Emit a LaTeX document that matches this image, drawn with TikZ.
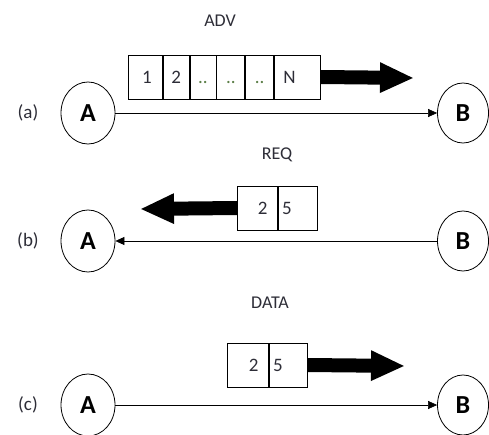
\documentclass[tikz,border=0pt]{standalone}
\usepackage{fontspec}
\setmainfont{Carlito}
\usetikzlibrary{shapes,arrows.meta,positioning}
\definecolor{dotgreen}{RGB}{90,125,70}
\definecolor{inkgray}{RGB}{45,45,55}

\begin{document}
\begin{tikzpicture}[x=1pt, y=-1pt,
    station/.style={ellipse, draw, thick, minimum width=54, minimum height=62, inner sep=0, font=\fontsize{26}{26}\selectfont\bfseries},
    cell/.style={rectangle, draw, thick, minimum height=44, inner ysep=0, inner xsep=4, text height=13, text depth=0, align=center, font=\fontsize{19}{19}\selectfont, text=inkgray},
    msg/.style={font=\fontsize{18}{18}\selectfont, text=inkgray},
    tag/.style={font=\fontsize{19}{19}\selectfont, text=inkgray},
    link/.style={-{Triangle[length=9pt,width=8pt]}, semithick},
    fat/.style={line width=14, -{Triangle[length=34pt,width=28pt]}}
]
\useasboundingbox (0,0) rectangle (489,435);

% (a) advertisement
\node[tag] (taga) at (28,113) {(a)};
\node[station] (a1) at (88,113) {A};
\node[station, minimum width=51, minimum height=60] (b1) at (463,113) {B};
\node[msg] (adv) at (220,21) {ADV};
\node[cell, anchor=west, text width=26] (c1) at (128,77) {\hspace*{3pt}1};
\node[cell, text width=18, right=0pt of c1] (c2) {2};
\node[cell, text width=18, right=0pt of c2, text=dotgreen] (c3) {..};
\node[cell, text width=20, right=0pt of c3, text=dotgreen] (c4) {..};
\node[cell, text width=20, right=0pt of c4, text=dotgreen] (c5) {..};
\node[cell, text width=38, right=0pt of c5, align=left] (c6) {\hspace*{5pt}N};
\coordinate (tipa) at (414,78);
\draw[fat] (c6.east) -- (tipa);
\draw[link] (a1) -- (b1);

% (b) request
\node[tag] (tagb) at (28,241) {(b)};
\node[station] (a2) at (88,241) {A};
\node[station, minimum width=51, minimum height=60] (b2) at (463,241) {B};
\node[msg] (req) at (277,155) {REQ};
\node[cell, anchor=west, text width=32, align=right] (r1) at (237,208) {2\hspace*{6pt}};
\node[cell, text width=31, right=0pt of r1, align=left] (r2) {5};
\coordinate (tipb) at (140,209);
\draw[fat] (r1.west) -- (tipb);
\draw[link] (b2) -- (a2);

% (c) data
\node[tag] (tagc) at (28,405) {(c)};
\node[station] (a3) at (88,405) {A};
\node[station, minimum width=51, minimum height=60] (b3) at (463,405) {B};
\node[msg] (data) at (270,303) {DATA};
\node[cell, anchor=west, text width=33, align=right] (d1) at (227,365) {2\hspace*{6pt}};
\node[cell, text width=30, right=0pt of d1, align=left] (d2) {5};
\coordinate (tipc) at (405,366);
\draw[fat] (d2.east) -- (tipc);
\draw[link] (a3) -- (b3);
\end{tikzpicture}
\end{document}
